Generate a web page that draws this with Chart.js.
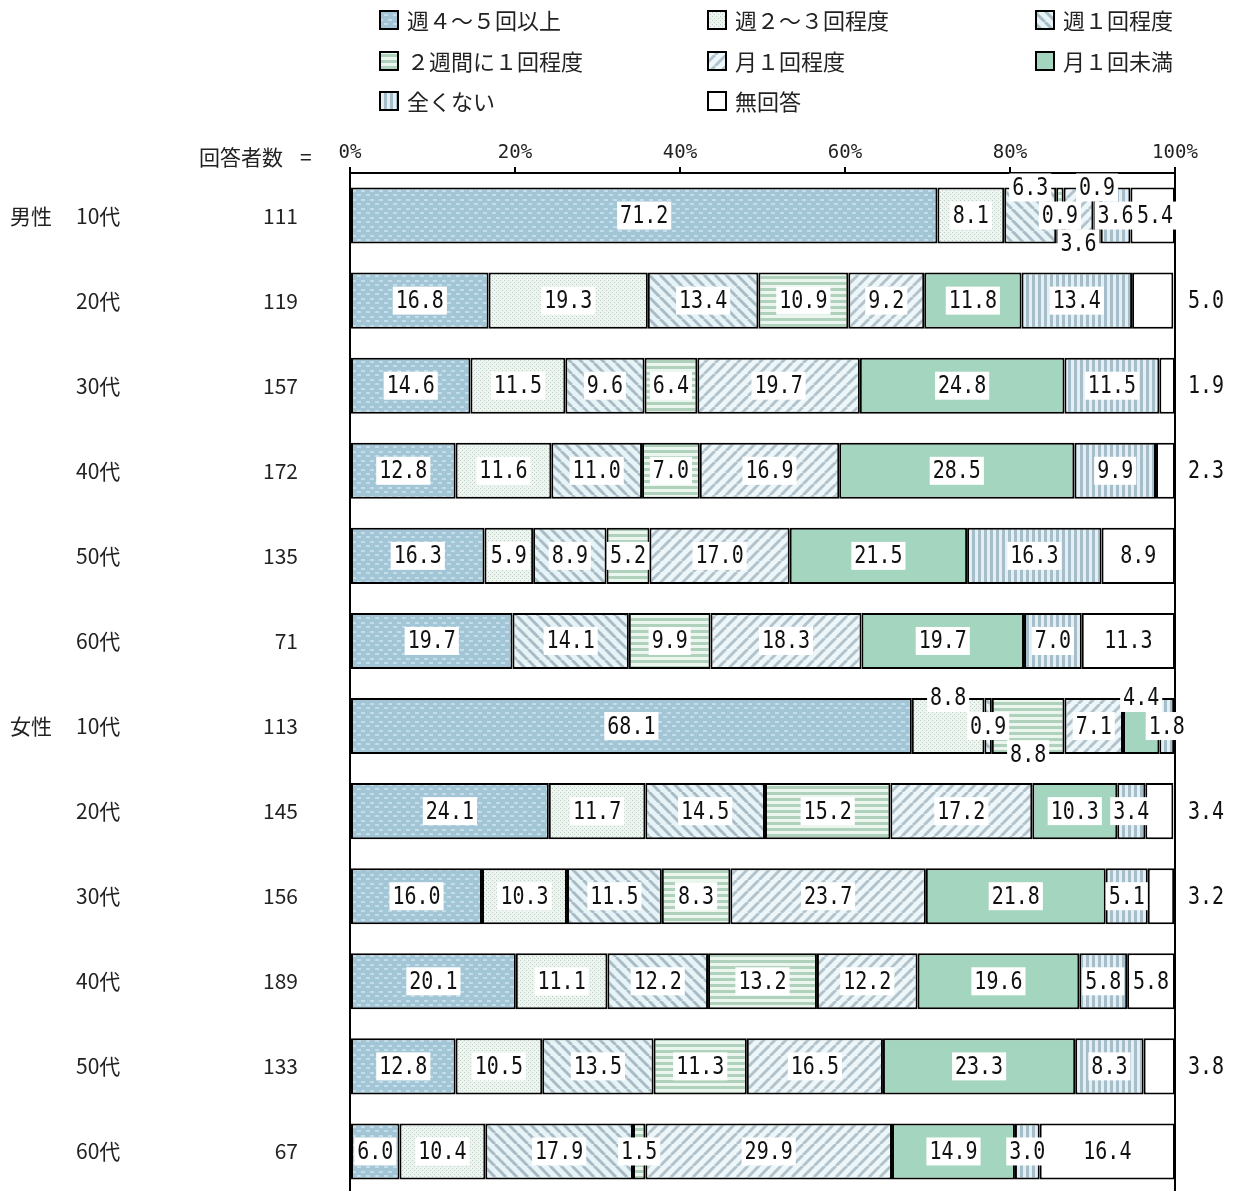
<!DOCTYPE html>
<html>
<head>
<meta charset="utf-8">
<script src="https://cdn.jsdelivr.net/npm/chart.js@4/dist/chart.umd.min.js"></script>
<style>
  html, body { margin: 0; background: #fff; overflow: hidden; }
  canvas { display: block; }
</style>
</head>
<body>
<canvas id="freqChart" width="1234" height="1194"></canvas>
<script>
// rows: gender / age group / number of respondents
var genders = ['男性', '', '', '', '', '', '女性', '', '', '', '', ''];
var ageGroups = ['10代', '20代', '30代', '40代', '50代', '60代', '10代', '20代', '30代', '40代', '50代', '60代'];
var respondents = [111, 119, 157, 172, 135, 71, 113, 145, 156, 189, 133, 67];

var seriesNames = ['週４～５回以上', '週２～３回程度', '週１回程度', '２週間に１回程度', '月１回程度', '月１回未満', '全くない', '無回答'];

// values in % for each series, one per row
var week4to5   = [71.2, 16.8, 14.6, 12.8, 16.3, 19.7, 68.1, 24.1, 16.0, 20.1, 12.8, 6.0];
var week2to3   = [8.1, 19.3, 11.5, 11.6, 5.9, 0, 8.8, 11.7, 10.3, 11.1, 10.5, 10.4];
var week1      = [6.3, 13.4, 9.6, 11.0, 8.9, 14.1, 0.9, 14.5, 11.5, 12.2, 13.5, 17.9];
var biweekly   = [0.9, 10.9, 6.4, 7.0, 5.2, 9.9, 8.8, 15.2, 8.3, 13.2, 11.3, 1.5];
var month1     = [3.6, 9.2, 19.7, 16.9, 17.0, 18.3, 7.1, 17.2, 23.7, 12.2, 16.5, 29.9];
var lessMonth  = [0.9, 11.8, 24.8, 28.5, 21.5, 19.7, 4.4, 10.3, 21.8, 19.6, 23.3, 14.9];
var never      = [3.6, 13.4, 11.5, 9.9, 16.3, 7.0, 1.8, 3.4, 5.1, 5.8, 8.3, 3.0];
var noAnswer   = [5.4, 5.0, 1.9, 2.3, 8.9, 11.3, 0, 3.4, 3.2, 5.8, 3.8, 16.4];

var xTicks = [0, 20, 40, 60, 80, 100];

// where small labels go: "row-series" -> top edge / bottom edge / outside right / flush right
var labelPlace = {
    '0-2': 'top', '0-4': 'bottom', '0-5': 'top', '0-7': 'flush',
    '6-1': 'top', '6-3': 'bottom', '6-5': 'top',
    '1-7': 'out', '2-7': 'out', '3-7': 'out',
    '7-7': 'out', '8-7': 'out', '10-7': 'out'
};

// ---- fill patterns ----
function makePattern(w, h, draw) {
    var c = document.createElement('canvas');
    c.width = w; c.height = h;
    var g = c.getContext('2d');
    draw(g, w, h);
    return document.getElementById('freqChart').getContext('2d').createPattern(c, 'repeat');
}

var fills = [
    makePattern(9, 9, function(g) {
        g.fillStyle = '#a2c6d6'; g.fillRect(0, 0, 9, 9);
        g.fillStyle = '#c4dde8';
        g.fillRect(1, 1, 4, 2); g.fillRect(6, 5, 3, 2); g.fillRect(0, 5, 1, 2);
    }),
    makePattern(4, 4, function(g) {
        g.fillStyle = '#eef5f1'; g.fillRect(0, 0, 4, 4);
        g.fillStyle = '#bccfc5';
        g.fillRect(0, 0, 1, 1); g.fillRect(2, 2, 1, 1);
    }),
    makePattern(11, 11, function(g) {
        g.fillStyle = '#e6f4f8'; g.fillRect(0, 0, 11, 11);
        g.strokeStyle = '#a9bcc5'; g.lineWidth = 3;
        for (var k = -11; k <= 11; k += 11) {
            g.beginPath(); g.moveTo(k, 0); g.lineTo(k + 11, 11); g.stroke();
        }
    }),
    makePattern(1, 6, function(g) {
        g.fillStyle = '#ebf6ee'; g.fillRect(0, 0, 1, 6);
        g.fillStyle = '#b0d2bd'; g.fillRect(0, 0, 1, 3);
    }),
    makePattern(11, 11, function(g) {
        g.fillStyle = '#edf7fa'; g.fillRect(0, 0, 11, 11);
        g.strokeStyle = '#b2c3cb'; g.lineWidth = 3;
        for (var k = -11; k <= 11; k += 11) {
            g.beginPath(); g.moveTo(k, 11); g.lineTo(k + 11, 0); g.stroke();
        }
    }),
    '#a4d5bf',
    makePattern(6, 1, function(g) {
        g.fillStyle = '#e4eff4'; g.fillRect(0, 0, 6, 1);
        g.fillStyle = '#a6bdca'; g.fillRect(0, 0, 3, 1);
    }),
    '#ffffff'
];

var allValues = [week4to5, week2to3, week1, biweekly, month1, lessMonth, never, noAnswer];

var datasets = seriesNames.map(function(name, i) {
    return {
        label: name,
        data: allValues[i],
        backgroundColor: fills[i],
        borderColor: '#000',
        borderWidth: 2,
        borderSkipped: false
    };
});

var textColor = '#222';
var jpFont = '"Noto Sans CJK JP", "Noto Sans", sans-serif';
var numFont = '"DejaVu Sans Mono", "Liberation Mono", monospace';

// legend in three columns above the plot
var legendPlugin = {
    id: 'gridLegend',
    afterDraw: function(chart) {
        var ctx = chart.ctx;
        var colX = [380, 708, 1036];
        var rowY = [20, 61, 101];
        ctx.save();
        ctx.font = '22px ' + jpFont;
        ctx.textBaseline = 'middle';
        seriesNames.forEach(function(name, i) {
            var x = colX[i % 3], y = rowY[Math.floor(i / 3)];
            ctx.fillStyle = fills[i];
            ctx.fillRect(x, y - 9, 18, 18);
            ctx.strokeStyle = '#000';
            ctx.lineWidth = 2;
            ctx.strokeRect(x, y - 9, 18, 18);
            ctx.fillStyle = textColor;
            ctx.fillText(name, x + 27, y + 1);
        });
        ctx.restore();
    }
};

// gender / age / respondents on the left
var rowLabelPlugin = {
    id: 'rowLabels',
    afterDraw: function(chart) {
        var ctx = chart.ctx;
        var yScale = chart.scales.y;
        ctx.save();
        ctx.font = '21px ' + jpFont;
        ctx.textBaseline = 'middle';
        ctx.fillStyle = textColor;
        ctx.textAlign = 'left';
        ctx.fillText('回答者数', 199, 157);
        ctx.fillText('=', 300, 157);
        ageGroups.forEach(function(age, i) {
            var y = yScale.getPixelForValue(i);
            ctx.textAlign = 'left';
            if (genders[i]) ctx.fillText(genders[i], 10, y);
            ctx.fillText(age, 76, y);
            ctx.textAlign = 'right';
            ctx.fillText(String(respondents[i]), 298, y);
        });
        ctx.restore();
    }
};

// value labels on white boxes
var valueLabelPlugin = {
    id: 'valueLabels',
    afterDatasetsDraw: function(chart) {
        var ctx = chart.ctx;
        var sx = 0.8;
        ctx.save();
        ctx.font = '25px ' + numFont;
        ctx.textBaseline = 'middle';
        ctx.textAlign = 'center';
        chart.data.datasets.forEach(function(ds, di) {
            var meta = chart.getDatasetMeta(di);
            meta.data.forEach(function(bar, ri) {
                var v = ds.data[ri];
                if (!v) return;
                var p = bar.getProps(['x', 'y', 'base', 'height'], true);
                var txt = v.toFixed(1);
                var place = labelPlace[ri + '-' + di] || 'mid';
                var w = ctx.measureText(txt).width * sx;
                var x = (p.x + p.base) / 2;
                var y = p.y;
                if (place === 'top') y = p.y - p.height / 2;
                if (place === 'bottom') y = p.y + p.height / 2;
                if (place === 'out') x = chart.chartArea.right + 31;
                if (place === 'flush') x = p.x - w / 2 - 2;
                if (place !== 'out') {
                    ctx.fillStyle = '#fff';
                    ctx.fillRect(x - w / 2 - 3, y - 14, w + 6, 28);
                }
                ctx.fillStyle = '#111';
                ctx.save();
                ctx.translate(x, y + 1);
                ctx.scale(sx, 1);
                ctx.fillText(txt, 0, 0);
                ctx.restore();
            });
        });
        ctx.restore();
    }
};

var ctx = document.getElementById('freqChart').getContext('2d');

new Chart(ctx, {
    type: 'bar',
    data: { labels: ageGroups, datasets: datasets },
    options: {
        indexAxis: 'y',
        responsive: false,
        animation: false,
        layout: { padding: { left: 350, right: 59, top: 123, bottom: 0 } },
        datasets: { bar: { categoryPercentage: 1, barPercentage: 0.66 } },
        scales: {
            x: {
                stacked: true,
                position: 'top',
                min: 0,
                max: 100,
                afterBuildTicks: function(scale) {
                    scale.ticks = xTicks.map(function(v) { return { value: v }; });
                },
                afterFit: function(scale) { scale.height = 50; },
                ticks: {
                    callback: function(v) { return v + '%'; },
                    font: { family: numFont, size: 19 },
                    color: textColor,
                    padding: 3,
                    maxRotation: 0
                },
                grid: {
                    drawOnChartArea: true,
                    color: function(c) {
                        return (c.tick && (c.tick.value === 0 || c.tick.value === 100)) ? '#000' : 'rgba(0,0,0,0)';
                    },
                    tickColor: '#000',
                    tickLength: 6,
                    lineWidth: 2
                },
                border: { display: true, color: '#000', width: 2 }
            },
            y: { stacked: true, display: false }
        },
        plugins: {
            legend: { display: false },
            tooltip: { enabled: false }
        }
    },
    plugins: [legendPlugin, rowLabelPlugin, valueLabelPlugin]
});
</script>
</body>
</html>
